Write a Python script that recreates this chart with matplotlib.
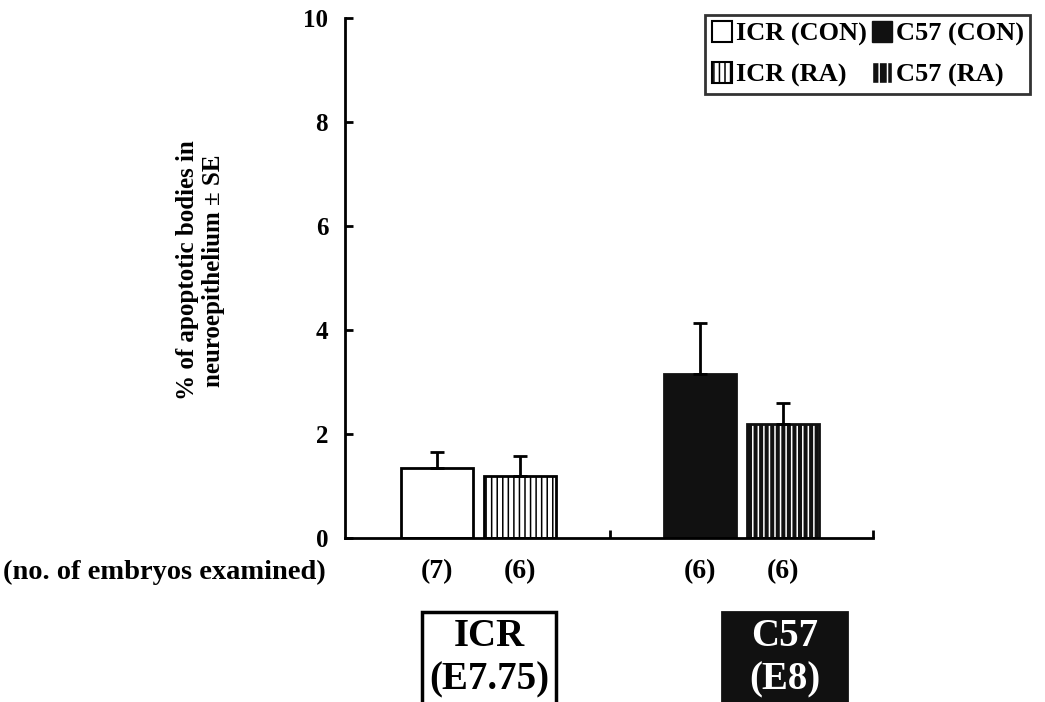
import numpy as np
import matplotlib.pyplot as plt
from matplotlib.patches import Patch, Rectangle

plt.rcParams['font.family'] = ['Liberation Serif', 'DejaVu Serif']
plt.rcParams['font.weight'] = 'bold'
plt.rcParams['hatch.linewidth'] = 1.1

groups = ['ICR (CON)', 'ICR (RA)', 'C57 (CON)', 'C57 (RA)']
means = [1.35, 1.2, 3.15, 2.2]
se = [0.3, 0.38, 0.98, 0.4]
n_embryos = ['(7)', '(6)', '(6)', '(6)']
positions = [0.92, 1.75, 3.55, 4.38]

fig = plt.figure(figsize=(10.45, 7.02), dpi=100)
ax = fig.add_axes([0.330, 0.2336, 0.505, 0.7408])

w = 0.72
# white control, striped white RA, black control, black RA with white stripes
ax.bar(positions[0], means[0], w, color='white', edgecolor='black', linewidth=2)
ax.bar(positions[1], means[1], w, color='white', edgecolor='black', linewidth=2, hatch='|||')
ax.bar(positions[2], means[2], w, color='#111111', edgecolor='#111111', linewidth=2)
ax.bar(positions[3], means[3], w, color='#111111', edgecolor='white', linewidth=0, hatch='|||')
ax.bar(positions[3], means[3], w, color='none', edgecolor='#111111', linewidth=2)

ax.errorbar(positions, means, yerr=[np.zeros(4), se], fmt='none',
            ecolor='black', elinewidth=2, capsize=5, capthick=2)

ax.set_xlim(0, 5.28)
ax.set_ylim(0, 10)
ax.set_yticks([0, 2, 4, 6, 8, 10])
ax.tick_params(axis='y', direction='in', length=6, width=2, labelsize=18, pad=12)
ax.set_xticks(positions)
ax.set_xticklabels(n_embryos, fontsize=20)
ax.tick_params(axis='x', length=0, pad=15)
ax.set_xticks([2.65, 5.28], minor=True)
ax.tick_params(axis='x', which='minor', direction='in', length=6, width=2)
for s in ['top', 'right']:
    ax.spines[s].set_visible(False)
for s in ['left', 'bottom']:
    ax.spines[s].set_linewidth(2)

fig.text(0.192, 0.615, '% of apoptotic bodies in\nneuroepithelium \u00b1 SE',
         fontsize=18, fontweight='bold', rotation=90, ha='center', va='center',
         multialignment='center', linespacing=1.2)

fig.text(0.003, 0.184, '(no. of embryos examined)', fontsize=20.5, va='center')

# strain boxes under the axis, running off the bottom edge
fig.add_artist(Rectangle((0.4038, -0.02), 0.1283, 0.148, transform=fig.transFigure,
                         facecolor='white', edgecolor='black', linewidth=2.5))
fig.add_artist(Rectangle((0.6909, -0.02), 0.1196, 0.148, transform=fig.transFigure,
                         facecolor='#111111', edgecolor='#111111', linewidth=2))
fig.text(0.468, 0.093, 'ICR', fontsize=28, ha='center', va='center')
fig.text(0.468, 0.031, '(E7.75)', fontsize=28, ha='center', va='center')
fig.text(0.751, 0.093, 'C57', fontsize=28, ha='center', va='center', color='white')
fig.text(0.751, 0.031, '(E8)', fontsize=28, ha='center', va='center', color='white')

handles = [
    Patch(facecolor='white', edgecolor='black', linewidth=1.5, label='ICR (CON)'),
    Patch(facecolor='white', edgecolor='black', linewidth=1.5, hatch='|||', label='ICR (RA)'),
    Patch(facecolor='#111111', edgecolor='#111111', label='C57 (CON)'),
    Patch(facecolor='#111111', edgecolor='white', hatch='||', label='C57 (RA)'),
]
leg = fig.legend(handles=handles, ncol=2, loc='upper left',
                 bbox_to_anchor=(0.675, 0.979), fontsize=19, frameon=True,
                 fancybox=False, edgecolor='black', handlelength=0.75,
                 handleheight=0.85, handletextpad=0.15, columnspacing=0.2,
                 labelspacing=0.6, borderpad=0.25, borderaxespad=0)
leg.get_frame().set_linewidth(2)

fig.savefig('out.png', dpi=100)
